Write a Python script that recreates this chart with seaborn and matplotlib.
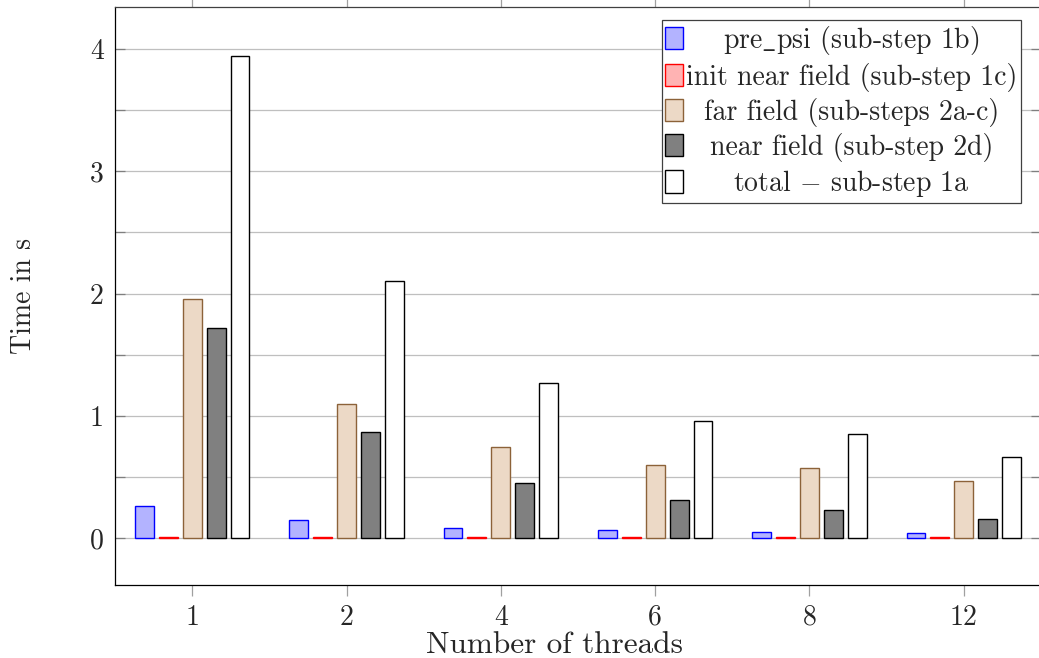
import numpy as np
import pandas as pd
import matplotlib
matplotlib.use("Agg")
import matplotlib.pyplot as plt
from matplotlib.patches import Patch
from matplotlib.transforms import Affine2D
from matplotlib.ticker import MultipleLocator
import seaborn as sns

# Timings per thread count (seconds)
threads = ["1", "2", "4", "6", "8", "12"]
pre_psi = [0.26, 0.145, 0.082, 0.063, 0.052, 0.041]
init_near_field = [0.005, 0.005, 0.005, 0.005, 0.005, 0.005]
far_field = [1.955, 1.095, 0.742, 0.594, 0.573, 0.469]
near_field = [1.72, 0.87, 0.447, 0.308, 0.232, 0.155]
total = [3.94, 2.10, 1.265, 0.96, 0.851, 0.66]

series_labels = [
    r"pre$\_$psi (sub-step 1b)",
    "init near field (sub-step 1c)",
    "far field (sub-steps 2a-c)",
    "near field (sub-step 2d)",
    r"total $-$ sub-step 1a",
]
series_values = [pre_psi, init_near_field, far_field, near_field, total]
face_colors = ["#B3B3FF", "#FFB3B3", "#ECD9C6", "#808080", "#FFFFFF"]
edge_colors = ["#0000FF", "#FF0000", "#8C6239", "#000000", "#000000"]

df = pd.DataFrame({
    "threads": np.repeat([threads], len(series_labels), axis=0).ravel(),
    "series": np.repeat(series_labels, len(threads)),
    "time": np.concatenate(series_values),
})

sns.set_style("ticks")
plt.rcParams["font.family"] = ["cmr10", "DejaVu Serif"]
plt.rcParams["mathtext.fontset"] = "cm"
plt.rcParams["mathtext.rm"] = "cmr10"
plt.rcParams["axes.unicode_minus"] = False

W, H = 1039, 658
fig = plt.figure(figsize=(W / 100, H / 100), dpi=100)
ax = fig.add_axes([115 / W, (H - 585) / H, 926 / W, 578 / H])

sns.barplot(
    data=df, x="threads", y="time", hue="series",
    order=threads, hue_order=series_labels,
    palette=face_colors, width=0.775, gap=0.21,
    saturation=1, legend=False, ax=ax, zorder=3,
)
for cont, fc, ec in zip(ax.containers, face_colors, edge_colors):
    for bar in cont:
        bar.set_facecolor(fc)
        bar.set_edgecolor(ec)
        bar.set_linewidth(1.0)

ax.set_xlim(-0.5, 5.5)
ax.set_ylim(-0.3845, 4.3436)

fs = 20
ax.yaxis.set_major_locator(MultipleLocator(1))
ax.yaxis.set_minor_locator(MultipleLocator(0.5))
ax.set_yticks([0, 1, 2, 3, 4])
ax.set_yticklabels(["0", "1", "2", "3", "4"], fontsize=fs)
ax.set_xticks(range(len(threads)))
ax.set_xticklabels(threads, fontsize=fs)

ax.grid(True, axis="y", which="both", color="#BFBFBF", linewidth=0.9, zorder=0)
ax.set_axisbelow(True)

ax.tick_params(axis="y", which="both", direction="in", left=True, right=True,
               length=7, width=0.9, color="#7F7F7F", pad=8)
ax.tick_params(axis="x", which="both", direction="out", bottom=True, top=True,
               length=8, width=0.9, color="#A0A0A0", pad=6)
for s in ax.spines.values():
    s.set_color("#000000")
    s.set_linewidth(0.9)
ax.spines["top"].set_color("#404040")

ax.set_xlabel("Number of threads", fontsize=22.5)
ax.xaxis.set_label_coords(555 / W, 1 - 645 / H, transform=fig.transFigure)
ax.xaxis.label.set_va("center")
ax.set_ylabel("Time in s", fontsize=fs, labelpad=38)

handles = [Patch(facecolor=fc, edgecolor=ec, linewidth=1.0)
           for fc, ec in zip(face_colors, edge_colors)]
leg = ax.legend(
    handles, series_labels, loc="upper right",
    bbox_to_anchor=(1021 / W, 1 - 20 / H), bbox_transform=fig.transFigure,
    borderaxespad=0, fontsize=fs, handlelength=0.62, handleheight=0.85,
    handletextpad=0.12, labelspacing=0.22, borderpad=0.13,
    frameon=True, fancybox=False, framealpha=1, edgecolor="#404040",
)
leg.get_frame().set_linewidth(0.9)

# Centre the legend labels within their column
fig.canvas.draw()
renderer = fig.canvas.get_renderer()
texts = leg.get_texts()
widths = [t.get_window_extent(renderer).width for t in texts]
wmax = max(widths)
for t, w in zip(texts, widths):
    t.set_transform(t.get_transform() + Affine2D().translate((wmax - w) / 2, 0))

fig.savefig("out.png", dpi=100)
